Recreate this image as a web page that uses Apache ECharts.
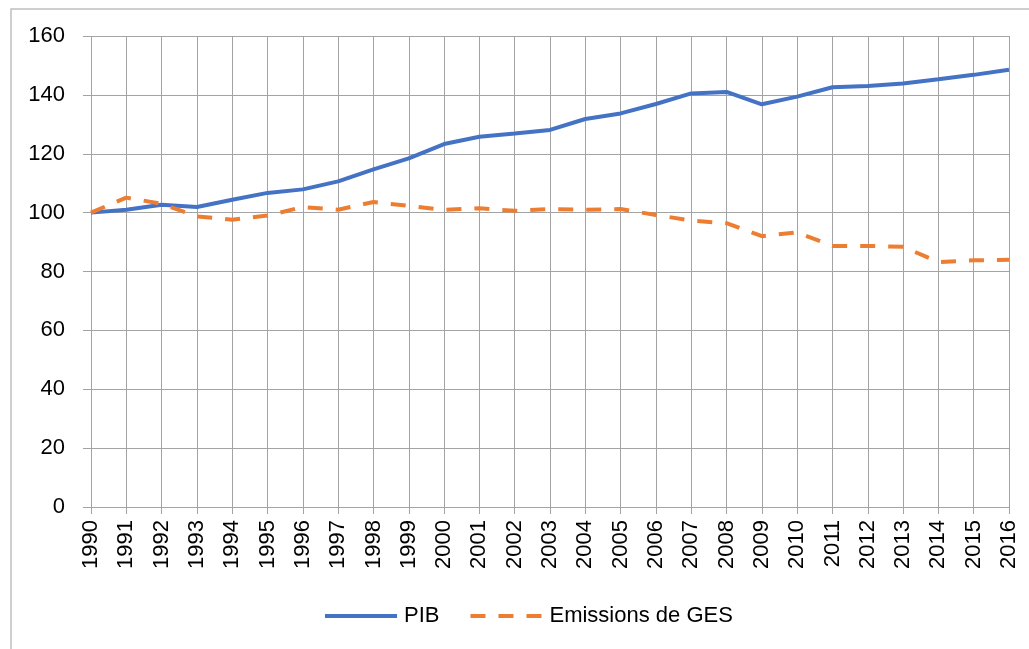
<!DOCTYPE html>
<html>
<head>
<meta charset="utf-8">
<script src="https://cdn.jsdelivr.net/npm/echarts@6/dist/echarts.min.js"></script>
<style>
html,body{margin:0;padding:0;background:#fff;}
#chart{width:1029px;height:649px;}
</style>
</head>
<body>
<div id="chart"></div>
<script>
const years = ['1990','1991','1992','1993','1994','1995','1996','1997','1998','1999','2000','2001','2002','2003','2004','2005','2006','2007','2008','2009','2010','2011','2012','2013','2014','2015','2016'];
const pib = [100,101.0,102.7,101.9,104.4,106.7,107.9,110.6,114.7,118.4,123.3,125.8,126.9,128.1,131.8,133.7,136.9,140.5,141.0,136.8,139.4,142.6,143.0,143.9,145.3,146.8,148.5];
const ges = [100,105.1,103.0,98.7,97.6,99.0,101.9,101.0,103.6,102.3,100.9,101.5,100.6,101.2,101.0,101.2,99.2,97.3,96.4,92.0,93.3,88.7,88.7,88.4,83.2,83.8,84.0];
const seriesNames = ['PIB','Emissions de GES'];
const yTicks = {min:0, max:160, interval:20};

const FONT = 'Liberation Sans';
const GRID = '#a3a3a3';
const chart = echarts.init(document.getElementById('chart'), null, {renderer:'canvas'});
chart.setOption({
  animation:false,
  backgroundColor:'#ffffff',
  graphic:[{type:'rect', left:8.5, top:6.5, shape:{x:0,y:0,width:1100,height:700}, style:{fill:'none', stroke:'#bfbfbf', lineWidth:1.5}, z:-1}],
  grid:{left:91, right:20, top:36, bottom:142, containLabel:false},
  legend:{
    left:318, top:600, itemWidth:72, itemHeight:22, itemGap:29,
    itemStyle:{opacity:0, borderWidth:0},
    lineStyle:{width:4},
    textStyle:{fontFamily:FONT, fontSize:22, color:'#000', lineHeight:22, padding:[0,0,0,2]},
    data:seriesNames
  },
  xAxis:{
    type:'category', data:years, boundaryGap:false,
    axisLine:{show:true, lineStyle:{color:GRID, width:1}},
    axisTick:{show:true, length:7, alignWithLabel:true, lineStyle:{color:GRID}},
    axisLabel:{rotate:90, margin:13, fontFamily:FONT, fontSize:22, color:'#000', interval:0},
    splitLine:{show:true, lineStyle:{color:GRID, width:1}}
  },
  yAxis:{
    type:'value', min:yTicks.min, max:yTicks.max, interval:yTicks.interval,
    axisLine:{show:false},
    axisTick:{show:true, length:8, lineStyle:{color:GRID}},
    axisLabel:{margin:26, fontFamily:FONT, fontSize:22, color:'#000'},
    splitLine:{show:true, lineStyle:{color:GRID, width:1}}
  },
  series:[
    {name:seriesNames[0], type:'line', data:pib, symbol:'none', smooth:false,
     lineStyle:{color:'#4472C4', width:4}, itemStyle:{color:'#4472C4'}},
    {name:seriesNames[1], type:'line', data:ges, symbol:'none', smooth:false,
     lineStyle:{color:'#ED7D31', width:4, type:[15,13], cap:'butt'}, itemStyle:{color:'#ED7D31'}}
  ]
});
</script>
</body>
</html>
